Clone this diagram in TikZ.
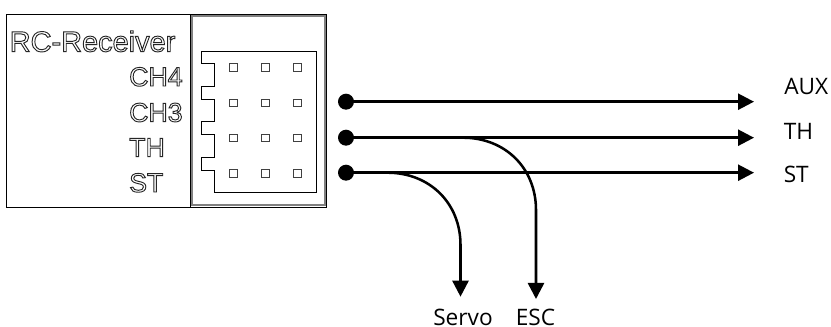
\documentclass[tikz,border=0pt]{standalone}
\usepackage{fontspec}
\setmainfont{Liberation Sans}
\newfontfamily\labelfont{Open Sans}
\usetikzlibrary{arrows.meta}
\newcommand{\outlined}[1]{\special{pdf:code q 1 Tr 0.7 w 0.15 0.15 0.15 RG}#1\special{pdf:code 0 Tr Q}}
\tikzset{
  x=0.75pt,y=-0.75pt,
  wire/.style={line width=1.9pt,black,-{Triangle[length=12pt,width=12pt]}},
  dotnode/.style={circle,fill=black,inner sep=0pt,minimum size=12pt},
  rxlabel/.style={anchor=base west,inner sep=0pt,font=\fontsize{20pt}{20pt}\selectfont},
  outlabel/.style={anchor=base west,inner sep=0pt,font=\labelfont\fontsize{17pt}{18pt}\selectfont},
  pin/.style={draw=black!75,line width=0.6pt,fill=white,minimum size=5.6pt,inner sep=0pt},
  casing/.style={draw=black,line width=0.7pt},
  rim/.style={draw=black!50,line width=1.4pt}
}
\begin{document}
\begin{tikzpicture}
\useasboundingbox (0,0) rectangle (831,327);
\fill[white] (0,0) rectangle (831,327);
% receiver case
\path[casing] (6.5,14.7) rectangle (190.5,207);
\path[casing,fill=white] (190.5,14.7) rectangle (326.7,207);
\path[rim] (192.3,15.8) -- (325.2,15.8) -- (325.2,205.2) -- (192.3,205.2) -- cycle;
% connector outline
\draw[black,line width=0.7pt] (201,51) -- (316.7,51) -- (316.7,192.3) -- (214.3,192.3)
 -- (214.3,170) -- (201,170) -- (201,157.3) -- (214.3,157.3) -- (214.3,134.3)
 -- (201,134.3) -- (201,121.7) -- (214.3,121.7) -- (214.3,99) -- (201,99)
 -- (201,86) -- (214.3,86) -- (214.3,63.3) -- (201,63.3) -- cycle;
% pins
\foreach \r/\py in {a/67.3,b/103,c/138,d/173.3}{
  \foreach \c/\px in {1/233.3,2/265.3,3/297.3}{
    \node[pin] (pin\r\c) at (\px,\py) {};
  }
}
% receiver text
\node[rxlabel,font=\fontsize{21.7pt}{22pt}\selectfont] (title) at (9.5,51.7) {\outlined{RC-Receiver}};
\node[rxlabel] (ch4) at (129,86) {\outlined{CH4}};
\node[rxlabel] (ch3) at (129,121.7) {\outlined{CH3}};
\node[rxlabel] (thin) at (129,156.7) {\outlined{TH}};
\node[rxlabel] (stin) at (129,192) {\outlined{ST}};
% wires
\node[dotnode] (dA) at (346,101.7) {};
\node[dotnode] (dT) at (346,137.7) {};
\node[dotnode] (dS) at (346,172.7) {};
\coordinate (eA) at (754,101.7);
\coordinate (eT) at (754,137.7);
\coordinate (eS) at (754,172.7);
\coordinate (jT) at (463,137.7);
\coordinate (jS) at (387.5,172.7);
\coordinate (eServo) at (460.5,296.7);
\coordinate (eEsc) at (536,299);
\draw[wire] (dA.center) -- (eA);
\draw[wire] (dT.center) -- (eT);
\draw[wire] (dS.center) -- (eS);
\draw[wire] (jS) .. controls (429.5,172.7) and (460.5,203) .. (460.5,245) -- (eServo);
\draw[wire] (jT) .. controls (505,137.7) and (536,168) .. (536,210) -- (eEsc);
% labels
\node[outlabel] (lA) at (784,95) {AUX};
\node[outlabel] (lT) at (783.5,139.5) {TH};
\node[outlabel] (lS) at (783.5,183) {ST};
\node[outlabel] (lServo) at (433,325.5) {Servo};
\node[outlabel] (lEsc) at (515.5,325.5) {ESC};
\end{tikzpicture}
\end{document}
